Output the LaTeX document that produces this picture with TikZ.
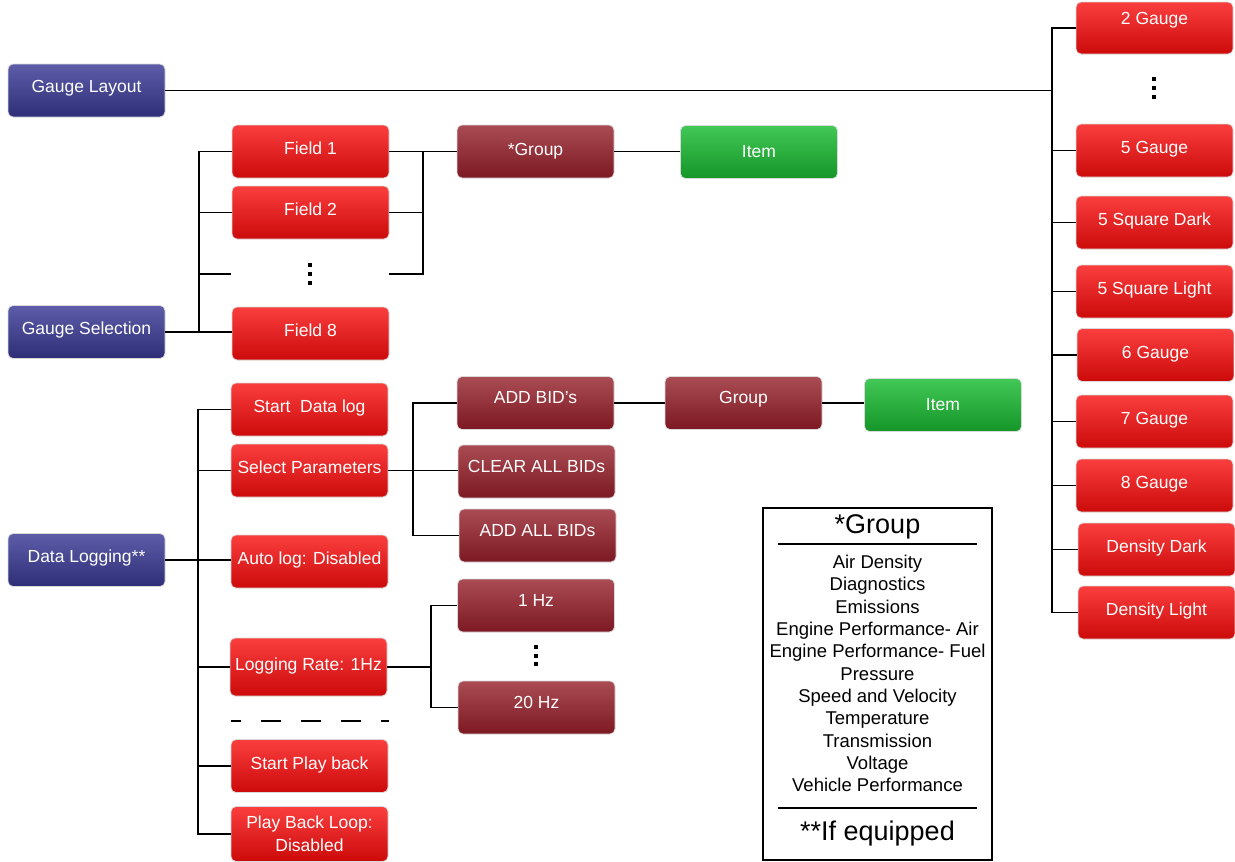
\documentclass[tikz,border=0pt]{standalone}
\usepackage{fontspec}
\setmainfont{Liberation Sans}
\definecolor{bTop}{RGB}{92,92,168}
\definecolor{bBot}{RGB}{46,46,120}
\definecolor{rTop}{RGB}{250,62,62}
\definecolor{rBot}{RGB}{204,10,10}
\definecolor{dTop}{RGB}{170,76,84}
\definecolor{dBot}{RGB}{124,24,34}
\definecolor{gTop}{RGB}{66,200,86}
\definecolor{gBot}{RGB}{20,150,40}
\begin{document}
\begin{tikzpicture}[x=1pt,y=-1pt,
  box/.style={rounded corners=5pt, minimum width=157pt, minimum height=53pt, inner sep=2pt,
    text=white, font=\fontsize{17.5}{22}\selectfont, align=center, draw=black!15, line width=0.8pt,
    text height=13pt},
  bluebox/.style={box, top color=bTop, bottom color=bBot, text depth=9pt},
  redbox/.style={box, top color=rTop, bottom color=rBot, text depth=7pt},
  darkbox/.style={box, top color=dTop, bottom color=dBot, text depth=12pt},
  greenbox/.style={box, top color=gTop, bottom color=gBot, text depth=2pt},
  conn/.style={line width=1.9pt, black},
  dot/.style={fill=black}
]
\useasboundingbox (0,0) rectangle (1235,862);

% left column
\node[bluebox] (gl) at (86.5,90.5) {Gauge Layout};
\node[bluebox] (gs) at (86.5,332) {Gauge Selection};
\node[bluebox] (dl) at (86.5,560) {Data Logging**};

% gauge selection fields
\node[redbox] (f1) at (310.5,151.5) {Field 1};
\node[redbox] (f2) at (310.5,212.5) {Field 2};
\coordinate (fdL) at (231,274);
\coordinate (fdR) at (389,274);
\node[redbox] (f8) at (310.5,333.5) {Field 8};
\node[darkbox, text depth=6pt] (grp1) at (535.5,151.5) {*Group};
\node[greenbox] (item1) at (759,152) {Item};

% data logging
\node[redbox] (sdl) at (309.5,409.5) {Start\ \ Data log};
\node[redbox] (sp) at (309.5,470.5) {Select Parameters};
\node[redbox] (al) at (309.5,561.5) {Auto log: Disabled};
\node[redbox, minimum height=58pt] (lr) at (308.5,667) {Logging Rate: 1Hz};
\node[redbox] (spb) at (309.5,766) {Start Play back};
\node[box, top color=rTop, bottom color=rBot, text height=, text depth=, minimum height=55pt,
  font=\fontsize{17.5}{23}\selectfont] (pbl) at (309.5,834) {Play Back Loop:\\Disabled};

\node[darkbox] (add) at (535.5,403) {ADD BID’s};
\node[darkbox] (clr) at (536.5,471.5) {CLEAR ALL BIDs};
\node[darkbox] (aab) at (537.5,535.5) {ADD ALL BIDs};
\node[darkbox] (grp2) at (743.5,403) {Group};
\node[greenbox] (item2) at (943,405) {Item};
\node[darkbox] (hz1) at (536,605.5) {1 Hz};
\node[darkbox] (hz20) at (536.5,707.5) {20 Hz};

% right column
\node[redbox, minimum height=52pt, text depth=20pt] (g2) at (1154.5,28) {2 Gauge};
\node[redbox] (g5) at (1154.5,150.5) {5 Gauge};
\node[redbox] (gsd) at (1154.5,222.5) {5 Square Dark};
\node[redbox] (gsl) at (1154.5,291.5) {5 Square Light};
\node[redbox] (g6) at (1155.5,355) {6 Gauge};
\node[redbox] (g7) at (1154.5,421.5) {7 Gauge};
\node[redbox] (g8) at (1154.5,485.5) {8 Gauge};
\node[redbox] (dd) at (1156.5,549.5) {Density Dark};
\node[redbox] (dlt) at (1156.5,612.5) {Density Light};

% ellipses
\foreach \y in {265,274,283} \fill[dot] (308,\y-2) rectangle (312,\y+2);
\foreach \y in {79,88,97} \fill[dot] (1152,\y-2) rectangle (1156,\y+2);
\foreach \y in {647,655.5,664} \fill[dot] (534,\y-2) rectangle (538,\y+2);

% dashed separator
\draw[line width=2pt, dash pattern=on 20pt off 20pt, dash phase=10pt] (231,721) -- (389,721);

% connectors: gauge layout
\coordinate (rb) at (1052,90.5);
\draw[conn] (gl.east) -- (rb);
\foreach \n in {g2,g5,gsd,gsl,g6,g7,g8,dd,dlt} \draw[conn] (\n.west) -| (rb);

% gauge selection
\coordinate (gsb) at (199,333);
\draw[conn] (gs.east) -- (gs.east -| f8.west);
\foreach \n in {f1.west,f2.west,fdL} \draw[conn] (\n) -| (gsb);
\coordinate (fb) at (423,151.5);
\draw[conn] (f1.east) -- (grp1.west);
\foreach \n in {f2.east,fdR} \draw[conn] (\n) -| (fb);
\draw[conn] (grp1.east) -- (grp1.east -| item1.west);

% data logging
\coordinate (db) at (198,560);
\draw[conn] (dl.east) -- (dl.east -| al.west);
\foreach \n in {sdl,sp,lr,spb,pbl} \draw[conn] (\n.west) -| (db);
\coordinate (sb) at (413,470.5);
\draw[conn] (sp.east) -- (sp.east -| clr.west);
\foreach \n in {add,aab} \draw[conn] (\n.west) -| (sb);
\draw[conn] (add.east) -- (grp2.west);
\draw[conn] (grp2.east) -- (grp2.east -| item2.west);
\coordinate (lb) at (431,667);
\draw[conn] (lr.east) -- (lb);
\foreach \n in {hz1,hz20} \draw[conn] (\n.west) -| (lb);

% legend
\draw[line width=1.8pt] (763,508) rectangle (992,860);
\node[font=\fontsize{27}{30}\selectfont] (lgt) at (877.5,527) {*Group};
\draw[line width=2pt] (778,544) -- (977,544);
\node[anchor=north, align=center, font=\fontsize{18.5}{22.3}\selectfont, inner sep=0pt] (lgl) at (877.5,555)
  {Air Density\\Diagnostics\\Emissions\\Engine Performance- Air\\Engine Performance- Fuel\\Pressure\\Speed and Velocity\\Temperature\\Transmission\\Voltage\\Vehicle Performance};
\draw[line width=2pt] (778,808) -- (977,808);
\node[font=\fontsize{27}{30}\selectfont] (lgf) at (877.5,834) {**If equipped};
\end{tikzpicture}
\end{document}
